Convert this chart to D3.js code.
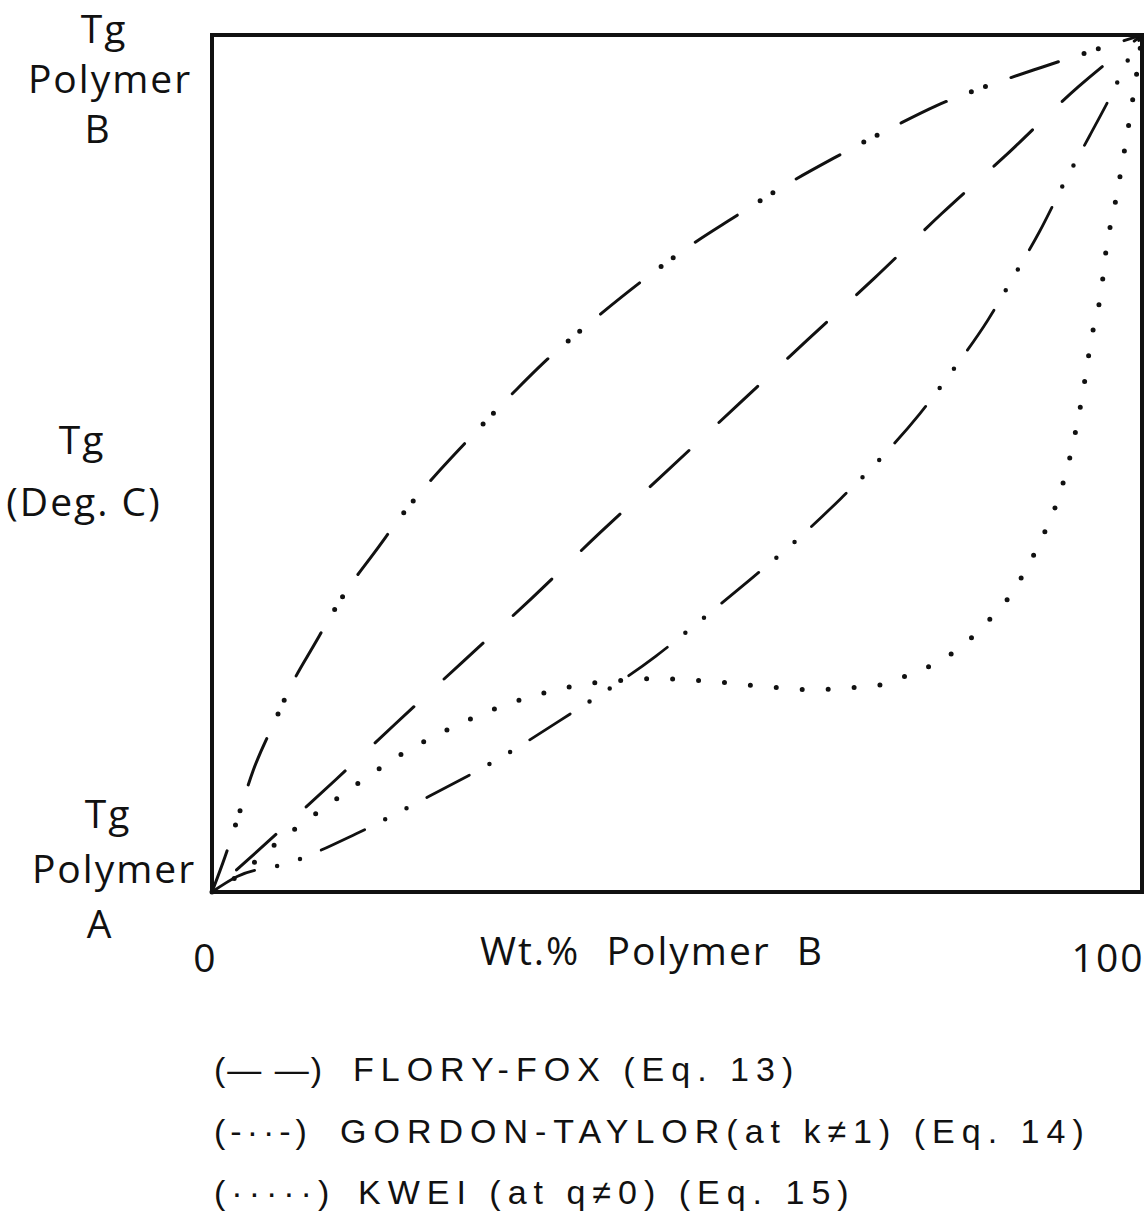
<!DOCTYPE html>
<html>
<head>
<meta charset="utf-8">
<script src="https://d3js.org/d3.v7.min.js"></script>
<style>
  body { margin: 0; background: #fff; }
  .lbl { font-family: "Open Sans", sans-serif; font-size: 39px; letter-spacing: 2px; fill: #111; }
  .leg { font-family: "Liberation Sans", Arial, sans-serif; font-size: 34px; letter-spacing: 7px; fill: #111; }
</style>
</head>
<body>
<div id="chart"></div>
<script>
// curves: [wt.% polymer B, Tg as % of the way from Tg(A) to Tg(B)]
var floryFox = [[0, 0], [13.3, 13.1], [19.7, 19.6], [26.9, 26.8], [34.4, 34.3], [41.7, 41.9],
  [48.1, 48.3], [56.6, 56.9], [64.0, 64.4], [71.2, 71.6], [78.5, 79.2], [85.2, 85.8],
  [93.2, 94.0], [100, 100]];

var gordonTaylorUpper = [[0, 0], [1.4, 4.1], [2.7, 8.4], [4.4, 14.1], [6.7, 19.8], [8.7, 24.5],
  [10.8, 28.5], [14.3, 34.9], [17.8, 40.1], [20.5, 44.1], [23.5, 48.0], [28.1, 53.4],
  [32.8, 58.7], [36.1, 62.2], [40.4, 66.2], [46.6, 71.6], [51.8, 75.7], [55.8, 78.5],
  [61.7, 82.5], [66.8, 85.6], [73.3, 89.3], [77.8, 91.7], [84.5, 94.5], [89.4, 96.3],
  [96.2, 98.7], [100, 100]];

var gordonTaylorLower = [[0, 0], [2.7, 1.8], [8.3, 3.4], [15.5, 6.8], [23.4, 11.2], [30.6, 15.4],
  [37.4, 20.0], [47.7, 27.5], [53.0, 32.1], [57.8, 36.4], [62.4, 40.6], [67.6, 45.9],
  [71.9, 50.6], [76.1, 55.8], [79.8, 61.1], [83.4, 66.7], [86.2, 71.8], [89.0, 77.1],
  [91.8, 83.1], [94.4, 88.3], [96.6, 92.8], [98.6, 97.3], [100, 100]];

var kwei = [[0, 0], [2.7, 1.8], [6.6, 5.4], [9.1, 7.5], [12.8, 10.4], [17.3, 13.9], [20.4, 16.1],
  [23.8, 18.1], [27.0, 19.8], [31.2, 21.7], [34.3, 22.8], [37.4, 23.7], [40.4, 24.3],
  [44.2, 24.7], [48.0, 24.9], [54.4, 24.5], [59.2, 24.0], [64.9, 23.6], [67.8, 23.8],
  [71.0, 24.0], [75.5, 25.6], [78.5, 27.1], [81.3, 29.3], [83.7, 31.9], [85.5, 34.1],
  [87.2, 37.0], [89.2, 41.2], [90.8, 45.3], [92.2, 50.5], [93.5, 57.4], [94.6, 64.8],
  [95.6, 70.0], [96.2, 75.4], [97.0, 79.7], [98.0, 85.8], [98.8, 91.1], [99.6, 96.8], [100, 100]];

var xTicks = [0, 100];
var xTitle = "Wt.% Polymer B";
var yTopLabel = ["Tg", "Polymer", "B"];
var yMidLabel = ["Tg", "(Deg. C)"];
var yBottomLabel = ["Tg", "Polymer", "A"];
var legendSymbols = ["(— —)", "(-··-)", "(·····)"];
var legendNames = ["FLORY-FOX (Eq. 13)", "GORDON-TAYLOR(at k≠1) (Eq. 14)", "KWEI (at q≠0) (Eq. 15)"];

var W = 1144, H = 1211;
var plot = { left: 212, right: 1142, top: 35, bottom: 892 };

var svg = d3.select("#chart").append("svg")
  .attr("width", W)
  .attr("height", H);

var x = d3.scaleLinear().domain([0, 100]).range([plot.left, plot.right]);
var y = d3.scaleLinear().domain([0, 100]).range([plot.bottom, plot.top]);

var line = d3.line()
  .x(function(d) { return x(d[0]); })
  .y(function(d) { return y(d[1]); })
  .curve(d3.curveMonotoneX);

function drawCurve(data, dash, width, offset, cls) {
  svg.append("path")
    .attr("class", cls)
    .attr("d", line(data))
    .attr("fill", "none")
    .attr("stroke", "#111")
    .attr("stroke-width", width)
    .attr("stroke-linecap", "round")
    .attr("stroke-dasharray", dash)
    .attr("stroke-dashoffset", offset);
}

// plain dashed / dotted
drawCurve(floryFox, "53 41", 3, 61, "flory-fox");
drawCurve(kwei, "0 26", 5, 0, "kwei");

// dash-dot-dot: thin dashes, then fatter dots on the same path
// gaps = [dash, gap, gap between the two dots, gap]
function drawDashDotDot(data, gaps, lineW, dotW, offset, cls) {
  var period = gaps[0] + gaps[1] + gaps[2] + gaps[3];
  drawCurve(data, gaps[0] + " " + (period - gaps[0]), lineW, offset, cls);
  drawCurve(data, "0 " + gaps[2] + " 0 " + (period - gaps[2]), dotW,
    period - gaps[0] - gaps[1] + offset, cls + "-dots");
}
drawDashDotDot(gordonTaylorUpper, [50, 27, 15, 27], 3, 5, 6, "gt-upper");
drawDashDotDot(gordonTaylorLower, [48, 23, 24, 23], 2.8, 4.5, 0, "gt-lower");

// frame
svg.append("rect")
  .attr("x", x(0))
  .attr("y", y(100))
  .attr("width", x(100) - x(0))
  .attr("height", y(0) - y(100))
  .attr("fill", "none")
  .attr("stroke", "#111")
  .attr("stroke-width", 4);

// x axis: only the end labels
var gx = svg.append("g")
  .attr("transform", "translate(0," + y(0) + ")")
  .call(d3.axisBottom(x).tickValues(xTicks).tickSize(0).tickPadding(0));
gx.select(".domain").remove();
gx.selectAll("text")
  .attr("class", "lbl")
  .attr("font-size", null)
  .attr("font-family", null)
  .attr("fill", null)
  .attr("dy", null)
  .attr("y", 80)
  .attr("text-anchor", function(d) { return d === 0 ? "middle" : "end"; })
  .attr("dx", function(d) { return d === 0 ? -7 : 2; });

svg.append("text")
  .attr("class", "lbl")
  .attr("x", 652)
  .attr("y", y(0) + 73)
  .attr("text-anchor", "middle")
  .attr("word-spacing", 14)
  .text(xTitle);

// y labels, each line with its own centre
function stack(lines, centres, baseY, step) {
  svg.append("g").selectAll("text")
    .data(lines)
    .enter()
    .append("text")
    .attr("class", "lbl")
    .attr("x", function(d, i) { return centres[i]; })
    .attr("y", function(d, i) { return baseY + i * step; })
    .attr("text-anchor", "middle")
    .text(function(d) { return d; });
}
stack(yTopLabel, [104, 110, 98], y(100) + 8, 50);
stack(yMidLabel, [82, 84], y(50) - 10, 62);
stack(yBottomLabel, [108, 114, 100], y(0) - 64, 55);

// legend
var symbolSpacing = ["2px", "5px", "6px"];
var nameX = [353, 340, 358];
var leg = svg.append("g");
legendNames.forEach(function(name, i) {
  var by = 1081 + i * 61.5;
  leg.append("text")
    .attr("class", "leg")
    .attr("x", 214)
    .attr("y", by)
    .style("letter-spacing", symbolSpacing[i])
    .text(legendSymbols[i]);
  leg.append("text")
    .attr("class", "leg")
    .attr("x", nameX[i])
    .attr("y", by)
    .text(name);
});
</script>
</body>
</html>
